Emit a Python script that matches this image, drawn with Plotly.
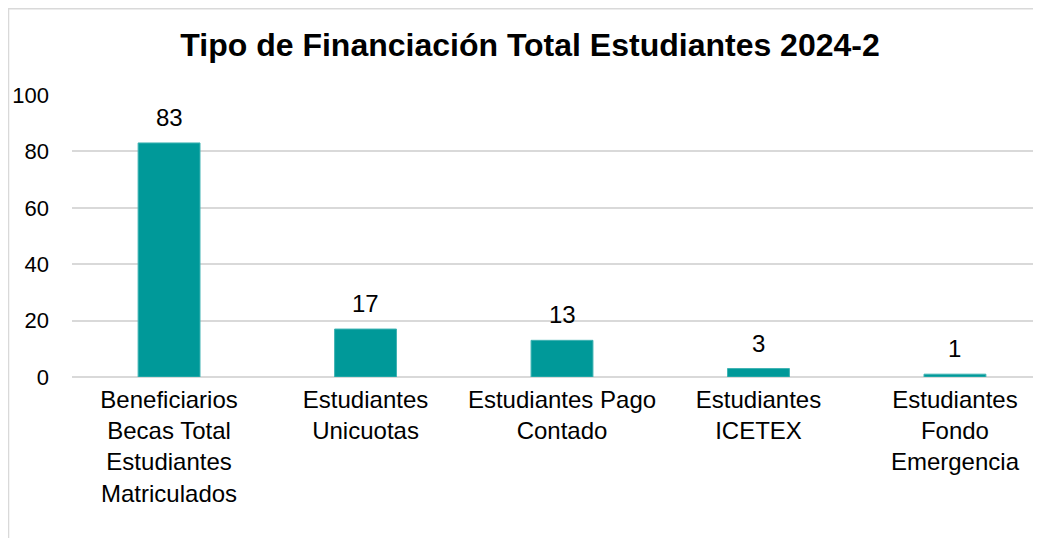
import plotly.graph_objects as go

# categories (line breaks as in the source chart)
categorias = [
    "Beneficiarios<br>Becas Total<br>Estudiantes<br>Matriculados",
    "Estudiantes<br>Unicuotas",
    "Estudiantes Pago<br>Contado",
    "Estudiantes<br>ICETEX",
    "Estudiantes<br>Fondo<br>Emergencia",
]
valores = [83, 17, 13, 3, 1]
y_ticks = [0, 20, 40, 60, 80, 100]

titulo = "Tipo de Financiación Total Estudiantes 2024-2"
fuente = "Liberation Sans, Arial, sans-serif"

# the page puts the figure 8px in from the top/left, so size it to fit
W, H = 1033, 530

fig = go.Figure()
fig.add_trace(go.Bar(
    x=list(range(len(categorias))),
    y=valores,
    width=0.315,
    marker=dict(color="#009999", line=dict(color="#3fb3b3", width=1)),
    cliponaxis=False,
    hoverinfo="x+y",
))

# data labels above the bars
for i, v in enumerate(valores):
    fig.add_annotation(x=i, y=v, text=str(v), showarrow=False,
                       yanchor="bottom", yshift=10,
                       font=dict(size=24, color="black", family=fuente))

fig.update_layout(
    width=W, height=H,
    margin=dict(l=64, r=0, t=87, b=161),
    paper_bgcolor="white", plot_bgcolor="white",
    font=dict(family=fuente, size=22, color="black"),
    showlegend=False,
    title=dict(text="<b>" + titulo + "</b>", x=0.4727, xref="paper",
               xanchor="center", y=1 - 37 / H, yref="container",
               yanchor="middle", font=dict(size=32, color="black", family=fuente)),
)

fig.update_xaxes(
    tickmode="array", tickvals=list(range(len(categorias))), ticktext=categorias,
    range=[-0.494, 4.438], showgrid=False, showline=False, ticks="",
    ticklabelstandoff=6,
    tickfont=dict(size=24, color="black"),
)
fig.update_yaxes(
    range=[0, 100], tickvals=y_ticks, showgrid=True, gridcolor="#d9d9d9",
    gridwidth=1.5, zeroline=True, zerolinecolor="#d9d9d9", zerolinewidth=1.5,
    showline=False, ticks="", ticklabelstandoff=22,
    tickfont=dict(size=22, color="black"),
)

# chart area border (cut off on the right and bottom like the source)
fig.add_shape(type="rect", xref="paper", yref="paper",
              x0=-0.0655, x1=1.2, y0=-0.8, y1=1.306,
              line=dict(color="#d9d9d9", width=1.5), layer="below")

fig.write_html("out.html")
